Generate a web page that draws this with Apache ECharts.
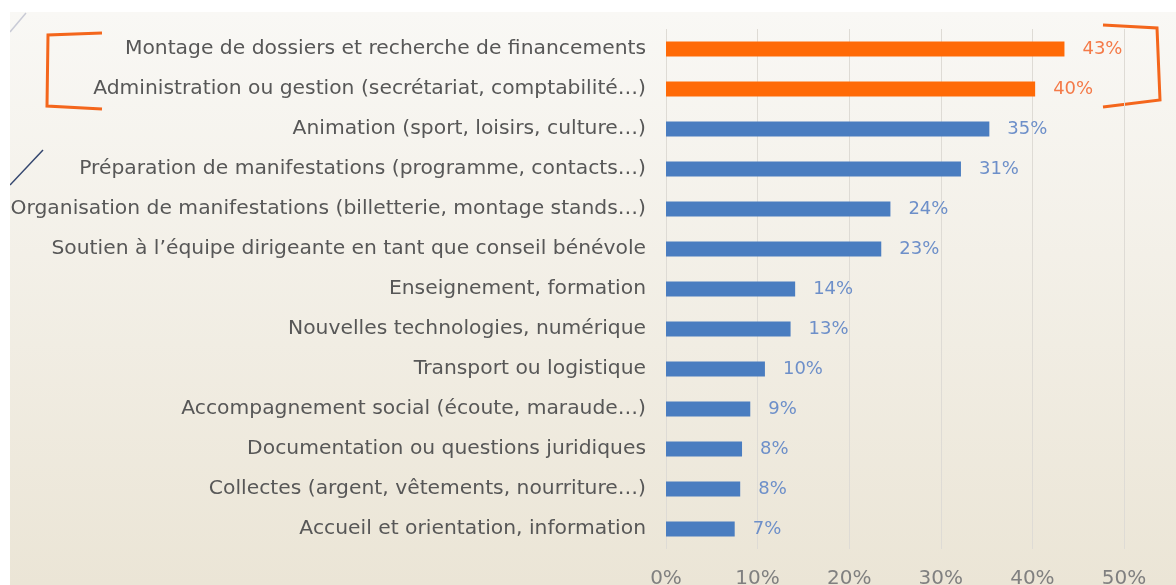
<!DOCTYPE html>
<html lang="fr">
<head>
    <meta charset="UTF-8">
    <title>Missions bénévoles</title>
    <style>
        html,body{
            margin: 0;
            height: 100%;
            background: #fff;
        }
        #chart{
            position: absolute;
            left: 10px;
            top: 12px;
            width: 1166px;
            height: 573px;
            background: linear-gradient(#f9f8f5, #ebe5d6);
        }
    </style>
    <script src="https://cdn.jsdelivr.net/npm/echarts@6/dist/echarts.min.js"></script>
</head>
<body>
<div id="chart"></div>
<script>
    // categories from top to bottom
    var categories = [
        "Montage de dossiers et recherche de financements",
        "Administration ou gestion (secrétariat, comptabilité…)",
        "Animation (sport, loisirs, culture…)",
        "Préparation de manifestations (programme, contacts…)",
        "Organisation de manifestations (billetterie, montage stands…)",
        "Soutien à l’équipe dirigeante en tant que conseil bénévole",
        "Enseignement, formation",
        "Nouvelles technologies, numérique",
        "Transport ou logistique",
        "Accompagnement social (écoute, maraude…)",
        "Documentation ou questions juridiques",
        "Collectes (argent, vêtements, nourriture…)",
        "Accueil et orientation, information"
    ];
    var values = [43.5, 40.3, 35.3, 32.2, 24.5, 23.5, 14.1, 13.6, 10.8, 9.2, 8.3, 8.1, 7.5];
    var labels = ["43%", "40%", "35%", "31%", "24%", "23%", "14%", "13%", "10%", "9%", "8%", "8%", "7%"];
    var highlighted = 2; // the first two are framed in orange

    var ORANGE = '#ff6a07';
    var BLUE = '#4a7dc0';

    var chart = echarts.init(document.getElementById('chart'));

    var data = values.map(function (v, i) {
        var hot = i < highlighted;
        return {
            value: v,
            itemStyle: {color: hot ? ORANGE : BLUE},
            label: {color: hot ? '#f47a48' : '#6d8fc9'}
        };
    });

    var option = {
        textStyle: {fontFamily: 'DejaVu Sans'},
        grid: {left: 656, right: 52, top: 17, bottom: 36, outerBoundsMode: 'none'},
        xAxis: {
            type: 'value',
            min: 0,
            max: 50,
            interval: 10,
            axisLine: {show: false},
            axisTick: {show: false},
            axisLabel: {
                formatter: '{value}%',
                color: '#808080',
                fontSize: 20,
                margin: 20
            },
            splitLine: {lineStyle: {color: '#dedbd5', width: 1}}
        },
        yAxis: {
            type: 'category',
            inverse: true,
            data: categories,
            axisLine: {show: false},
            axisTick: {show: false},
            axisLabel: {
                color: '#575757',
                fontSize: 20.3,
                margin: 20
            }
        },
        series: [{
            type: 'bar',
            data: data,
            barWidth: 15,
            silent: true,
            label: {
                show: true,
                position: 'right',
                distance: 18,
                fontSize: 18,
                formatter: function (p) { return labels[p.dataIndex]; }
            }
        }],
        graphic: [
            // left bracket
            {type: 'polyline', shape: {points: [[92, 21], [38, 23], [37, 94], [92, 97]]},
             style: {stroke: '#f4661c', lineWidth: 3, fill: null}},
            // right bracket
            {type: 'polyline', shape: {points: [[1093, 13], [1147, 16], [1150, 88], [1093, 95]]},
             style: {stroke: '#f4661c', lineWidth: 3, fill: null}},
            // small strokes on the left edge
            {type: 'line', shape: {x1: 0, y1: 20, x2: 16, y2: 1},
             style: {stroke: '#c9cbd6', lineWidth: 1.5}},
            {type: 'line', shape: {x1: 0, y1: 173, x2: 33, y2: 138},
             style: {stroke: '#34466e', lineWidth: 1.5}}
        ]
    };

    chart.setOption(option);
</script>
</body>
</html>
